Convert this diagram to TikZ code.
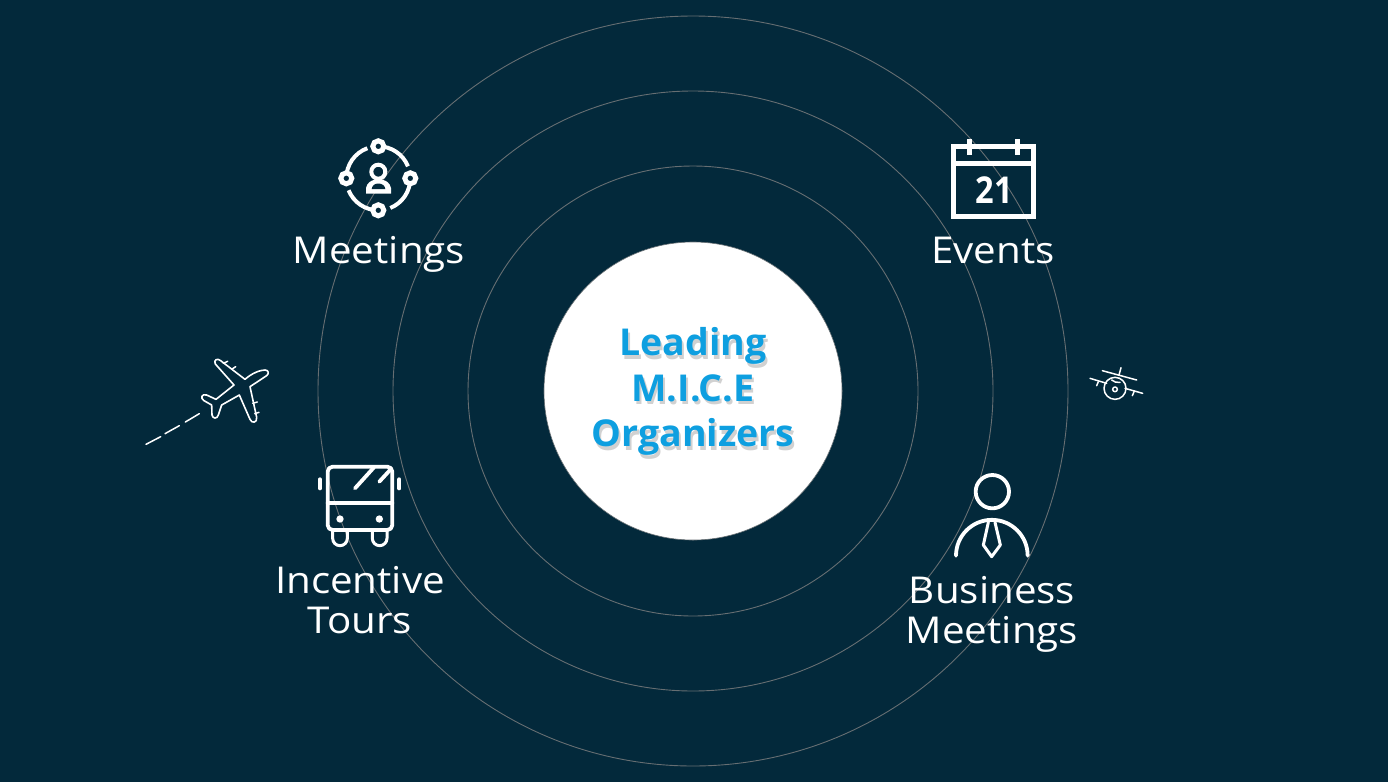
\documentclass[tikz,border=0pt]{standalone}
\usepackage{fontspec}
\setmainfont{Open Sans}[FakeStretch=1.09]
\newfontfamily\leadfont{Open Sans}[FakeStretch=1.015]
\newfontfamily\dayfont{Open Sans}[FakeStretch=0.88]
\definecolor{bgnavy}{HTML}{03293B}
\definecolor{ringgrey}{HTML}{666E72}
\definecolor{leadblue}{HTML}{0E9FE0}
\tikzset{
  ring/.style={draw=ringgrey,line width=0.9pt},
  label/.style={text=white,font=\fontsize{37}{40}\selectfont,align=center,inner sep=0pt},
  lead/.style={text=leadblue,font=\leadfont\bfseries\fontsize{37}{45.5}\selectfont,align=center,inner sep=0pt},
  leadshadow/.style={text=black,opacity=0.18,font=\leadfont\bfseries\fontsize{37}{45.5}\selectfont,align=center,inner sep=0pt},
  iconline/.style={draw=white,line width=3.8pt,line cap=round,line join=round},
  thinline/.style={draw=white,line width=1.5pt,line cap=round,line join=round},
  hub/.style={draw=white,fill=bgnavy,line width=5pt,circle,minimum size=11pt,inner sep=0pt,outer sep=0pt}
}
\begin{document}
\begin{tikzpicture}[x=1pt,y=-1pt]
\path[use as bounding box,fill=bgnavy] (0,0) rectangle (1388,782);
% rings
\coordinate (c) at (693,391);
\draw[ring] (c) circle[radius=375];
\draw[ring] (c) circle[radius=300];
\draw[ring] (c) circle[radius=225];
\draw[draw=ringgrey,fill=white,line width=0.6pt] (c) circle[radius=149];
% centre text
\node[leadshadow] (leadshadowa) at (695,395) {Leading\\M.I.C.E\\Organizers};
\node[lead] (leadtext) at (693,391.5) {Leading\\M.I.C.E\\Organizers};
% labels
\node[label,anchor=base] (meet) at (379,263.5) {Meetings};
\node[label,anchor=base] (events) at (993,263.5) {Events};
\node[label] (tours) at (360,600) {Incentive\\Tours};
\node[label] (biz) at (992,614) {Business\\Meetings};
% meetings icon
\begin{scope}[shift={(378.3,178.3)},yscale=-1]
  \draw[iconline,line width=4pt,line cap=butt] (110:32) arc[start angle=110,end angle=180,radius=32];
  \draw[iconline,line width=4pt,line cap=butt] (22:32) arc[start angle=22,end angle=90,radius=32];
  \draw[iconline,line width=4pt,line cap=butt] (-68:32) arc[start angle=-68,end angle=0,radius=32];
  \draw[iconline,line width=4pt,line cap=butt] (202:32) arc[start angle=202,end angle=270,radius=32];
  \node[hub] (h1) at (90:32) {};
  \node[hub] (h2) at (180:32) {};
  \node[hub] (h3) at (0:32) {};
  \node[hub] (h4) at (270:32) {};
\end{scope}
\draw[draw=white,line width=4pt] (378.3,171.7) circle[radius=7];
\fill[white] (366,193.5) -- (366,188) .. controls (367,183) and (371,180.5) .. (374,180) -- (383,180) .. controls (386,180.5) and (390,183) .. (391,188) -- (391,193.5) -- cycle;
\fill[bgnavy] (371.7,189) .. controls (372,185.5) and (375,183.5) .. (378.3,183.5) .. controls (382,183.5) and (385,185.5) .. (385.3,189) -- cycle;
% calendar icon
\begin{scope}[shift={(920,125)},scale=1/3]
  \draw[draw=white,line width=5pt] (100.5,65.5) rectangle (339.5,274.5);
  \draw[draw=white,line width=5pt] (100,114.5) -- (340,114.5);
  \fill[white] (141,43) rectangle (157,90);
  \fill[white] (284,43) rectangle (300,90);
  \node[text=white,font=\dayfont\bfseries\fontsize{37}{40}\selectfont,inner sep=0pt] (day) at (222,194) {21};
\end{scope}
% plane left
\begin{scope}[shift={(130,340)},scale=1/3]
  \draw[thinline,line width=1.6pt] (345,118) .. controls (365,100) and (390,90) .. (405,90) .. controls (417,90) and (417,102) .. (410,107) -- (360,140) -- (380,232) .. controls (382,248) and (366,252) .. (360,238) -- (328,165) -- (275,195) -- (265,225) .. controls (262,237) and (248,237) .. (246,225) -- (245,195) -- (222,182) .. controls (210,175) and (215,160) .. (230,165) -- (258,178) -- (312,135) -- (256,72) .. controls (250,60) and (262,53) .. (272,62) -- cycle;
  \draw[thinline] (280,70) -- (293,64);
  \draw[thinline] (305,88) -- (317,80);
  \draw[thinline] (368,190) -- (382,186);
  \draw[thinline] (374,221) -- (387,217);
  \draw[thinline] (48,313) -- (92,290);
  \draw[thinline] (105,281) -- (148,257);
  \draw[thinline] (166,246) -- (208,221);
\end{scope}
% plane right
\begin{scope}[shift={(1075,355)},scale=1/3]
  \draw[thinline] (120,100) circle[radius=33];
  \draw[thinline] (82,47) -- (185,75);
  \draw[thinline] (138,38) -- (132,60);
  \draw[thinline] (45,70) -- (95,85);
  \draw[thinline] (70,80) -- (65,92);
  \draw[thinline] (150,100) -- (203,115);
  \draw[thinline] (178,108) -- (172,122);
  \draw[thinline] (120,103) circle[radius=7];
  \draw[thinline] (110,75) .. controls (118,82) and (125,83) .. (135,82);
\end{scope}
% bus
\begin{scope}[shift={(300,450)},scale=1/3]
  \draw[iconline,rounded corners=5pt] (83,50) rectangle (277,240);
  \draw[iconline] (83,158) -- (277,158);
  \draw[iconline] (165,115) -- (222,52);
  \draw[iconline] (238,95) -- (272,58);
  \fill[white] (120,207) circle[radius=11];
  \fill[white] (238,207) circle[radius=11];
  \draw[iconline,line width=4pt] (60,88) -- (60,115);
  \draw[iconline,line width=4pt] (298,88) -- (298,115);
  \draw[iconline,line width=3pt,line cap=butt] (98,243) -- (98,265) arc[start angle=180,end angle=0,radius=22] -- (142,243);
  \draw[iconline,line width=3pt,line cap=butt] (217,243) -- (217,265) arc[start angle=180,end angle=0,radius=22] -- (261,243);
\end{scope}
% business person
\begin{scope}[shift={(940,465)},scale=1/3]
  \draw[iconline] (157,80) circle[radius=50];
  \draw[iconline] (48,272) arc[start angle=180,end angle=360,radius=107.5];
  \draw[iconline,line width=3pt] (145,172) -- (130,240) -- (155,275) -- (181,240) -- (165,172);
\end{scope}
\end{tikzpicture}
\end{document}
